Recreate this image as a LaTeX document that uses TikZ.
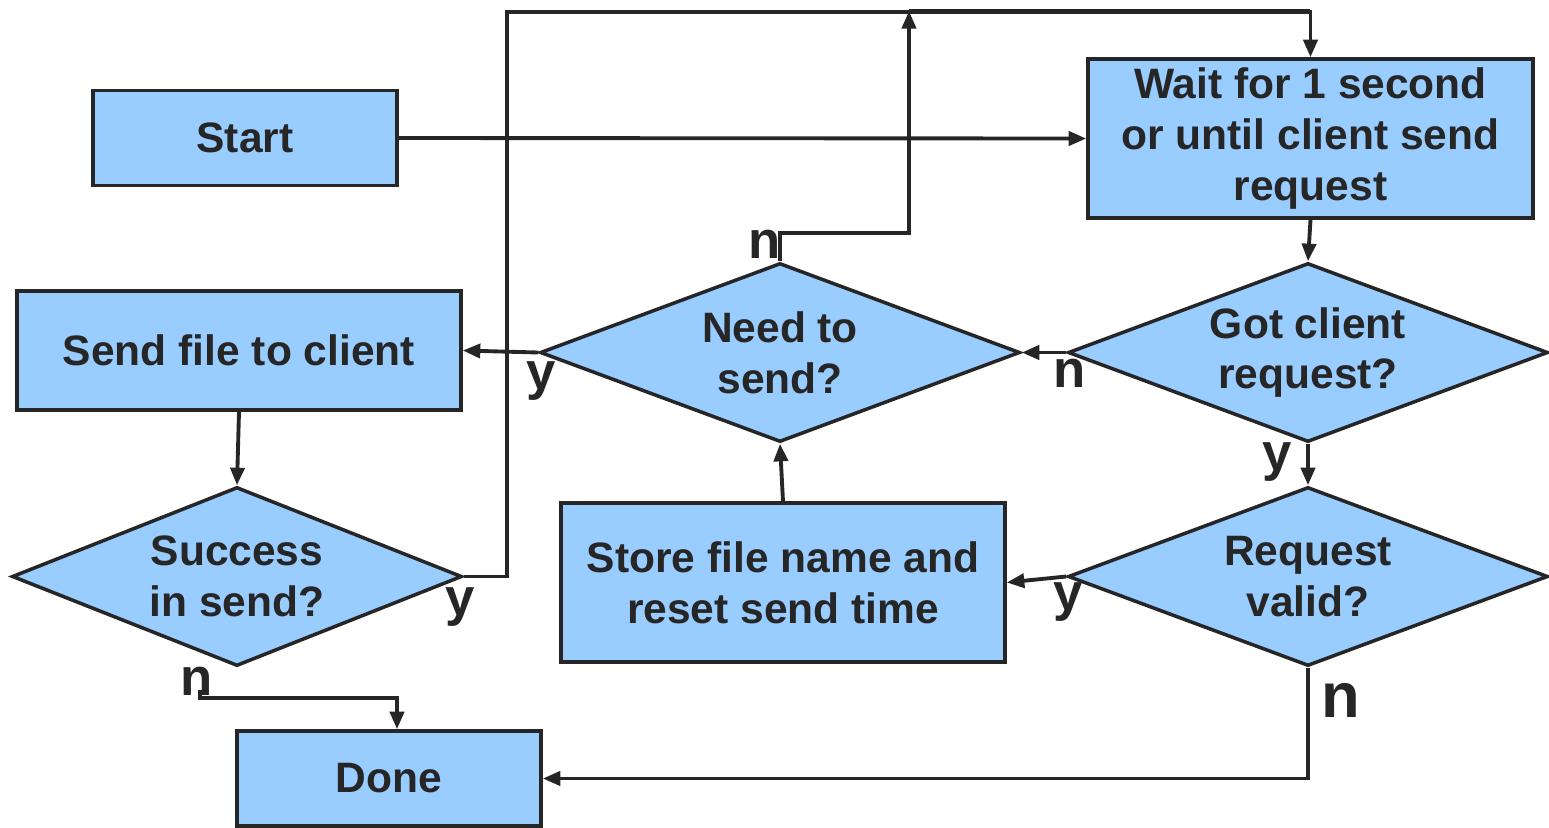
\documentclass[tikz,border=0pt]{standalone}
\usepackage{fontspec}
\setmainfont{Liberation Sans}
\usetikzlibrary{shapes.geometric,arrows.meta}
\definecolor{boxfill}{HTML}{99CCFF}
\definecolor{ink}{HTML}{262626}
\begin{document}
\begin{tikzpicture}[
    font=\fontsize{12.1}{14.5}\selectfont\bfseries,
    every node/.style={text=ink},
    box/.style={draw=ink, line width=1pt, fill=boxfill, align=center, inner sep=0pt},
    decision/.style={diamond, draw=ink, line width=1pt, fill=boxfill, align=center, inner sep=0pt, minimum height=1.79cm},
    flow/.style={draw=ink, line width=1.1pt, -{Triangle[length=5pt,width=4pt]}},
    yn/.style={font=\fontsize{15}{15}\selectfont\bfseries, anchor=base, inner sep=0pt}
  ]
  \useasboundingbox (0,0) rectangle (15.49,8.27);

  % boxes
  \node[box, minimum width=3.04cm, minimum height=0.95cm] (start) at (2.45,6.89) {Start};
  \node[box, minimum width=4.45cm, minimum height=1.59cm] (wait) at (13.105,6.885) {Wait for 1 second\\or until client send\\request};
  \node[box, minimum width=4.44cm, minimum height=1.19cm] (send) at (2.39,4.765) {Send file to client};
  \node[box, minimum width=4.44cm, minimum height=1.59cm] (store) at (7.83,2.445) {Store file name and\\reset send time};
  \node[box, minimum width=3.04cm, minimum height=0.95cm] (done) at (3.89,0.485) {Done};

  % decisions
  \node[decision, aspect=2.68, minimum width=4.8cm] (need) at (7.80,4.745) {Need to\\send?};
  \node[decision, aspect=2.68, minimum width=4.8cm] (got) at (13.08,4.745) {Got client\\request?};
  \node[decision, aspect=2.51, minimum width=4.5cm] (succ) at (2.37,2.505) {Success\\in send?};
  \node[decision, aspect=2.68, minimum width=4.8cm] (valid) at (13.08,2.505) {Request\\valid?};

  % labels
  \node[yn] (needn) at (7.65,5.69) {n};
  \node[yn] (needy) at (5.41,4.38) {y};
  \node[yn] (gotn) at (10.70,4.40) {n};
  \node[yn] (goty) at (12.77,3.57) {y};
  \node[yn] (validy) at (10.68,2.17) {y};
  \node[yn, font=\fontsize{18}{18}\selectfont\bfseries] (validn) at (13.41,1.10) {n};
  \node[yn] (succy) at (4.60,2.12) {y};
  \node[yn] (succn) at (1.97,1.32) {n};

  \coordinate (loopleft) at (5.07,8.15);
  \coordinate (looptop) at (9.09,8.16);
  \coordinate (needbend) at (9.09,5.94);
  \coordinate (succend) at (2.00,1.37);

  % connectors
  \draw[flow] (start.east) -- (wait.west);
  \draw[flow] (wait.south) -- (got.north);
  \draw[flow] (got.west) -- (need.east);
  \draw[flow] (got.south) -- (valid.north);
  \draw[flow] (valid.west) -- (store.east);
  \draw[flow] (valid.south) |- (done.east);
  \draw[flow] (store.north) -- (need.south);
  \draw[flow] (need.west) -- (send.east);
  \draw[flow] (send.south) -- (succ.north);
  \draw[flow] (need.north) |- (needbend) -- (looptop);
  \draw[flow] (succ.east) -| (loopleft) -| (wait.north);
  \draw[draw=ink, line width=1.1pt] (looptop) -- ++(4.01,0);
  \draw[flow] (succend) |- ++(1.97,-0.08) -- (done.north -| {(3.97,0)});
\end{tikzpicture}
\end{document}
